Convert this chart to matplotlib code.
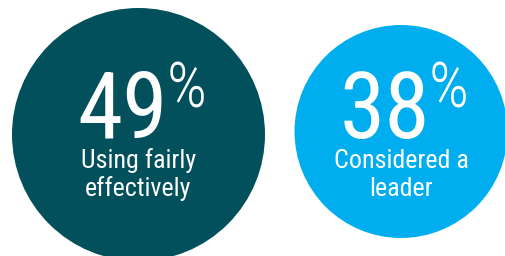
import matplotlib
matplotlib.use('Agg')
import matplotlib.pyplot as plt
from matplotlib.patches import Circle

# Values
values = [49, 38]
labels = [['Using fairly', 'effectively'], ['Considered a', 'leader']]
colors = ['#02505C', '#00AEEF']

# Layout (pixels on a 505x256 canvas)
centers = [(138.5, 134.5), (401, 131.5)]
radii = [126.5, 106.5]

FONT = ['Roboto Condensed', 'DejaVu Sans']

fig = plt.figure(figsize=(5.05, 2.56), dpi=100)
ax = fig.add_axes([0, 0, 1, 1])
ax.set_xlim(0, 505)
ax.set_ylim(256, 0)
ax.set_aspect('equal')
ax.axis('off')

for val, lab, col, (cx, cy), r in zip(values, labels, colors, centers, radii):
    ax.add_patch(Circle((cx, cy), r, color=col, lw=0))
    ax.text(cx + 29.5, 138, f'{val}', color='white', fontsize=66, family=FONT,
            ha='right', va='baseline')
    ax.text(cx + 28, 107, '%', color='white', fontsize=45, family=FONT,
            weight='light', ha='left', va='baseline')
    ax.text(cx, 168, lab[0], color='white', fontsize=18.7, family=FONT,
            ha='center', va='baseline')
    ax.text(cx, 196, lab[1], color='white', fontsize=18.7, family=FONT,
            ha='center', va='baseline')

fig.savefig('out.png', dpi=100)
